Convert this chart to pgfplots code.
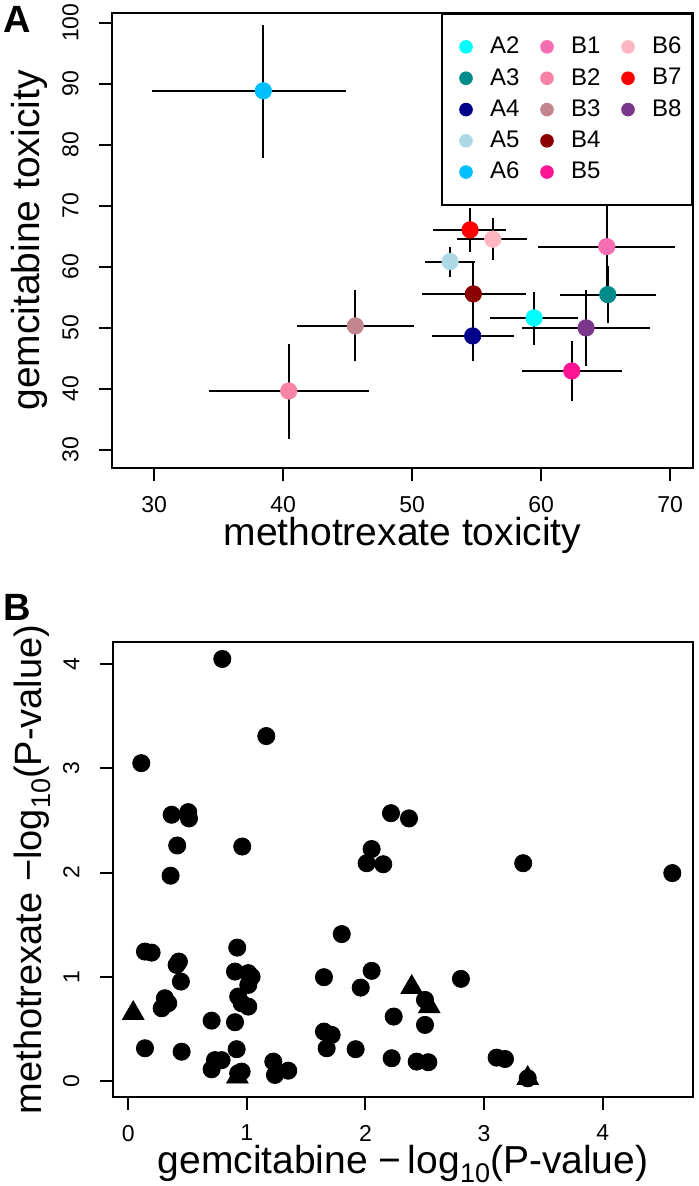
\documentclass[border=0pt]{standalone}
\usepackage{fontspec}
\setmainfont{Liberation Sans}
\usepackage{pgfplots}
\pgfplotsset{compat=1.18}
\usepackage{pgfplotstable}

\definecolor{cA2}{RGB}{0,255,255}
\definecolor{cA3}{RGB}{0,139,139}
\definecolor{cA4}{RGB}{0,0,139}
\definecolor{cA5}{RGB}{173,216,230}
\definecolor{cA6}{RGB}{0,191,255}
\definecolor{cB1}{RGB}{245,110,178}
\definecolor{cB2}{RGB}{248,131,167}
\definecolor{cB3}{RGB}{196,134,142}
\definecolor{cB4}{RGB}{139,0,0}
\definecolor{cB5}{RGB}{255,20,147}
\definecolor{cB6}{RGB}{255,182,193}
\definecolor{cB7}{RGB}{255,0,0}
\definecolor{cB8}{RGB}{122,55,139}

% toxicity means with their spread (minus / plus)
\pgfplotstableread{
x     y     xm    xp    ym     yp
59.46 51.64 3.41  3.44  4.43   4.31
65.17 55.46 3.70  3.74  4.69   4.70
54.70 48.69 3.17  3.20  4.05   4.26
52.95 60.87 1.97  1.93  2.56   2.46
38.47 88.85 8.63  6.40  10.95  10.85
65.09 63.33 5.35  5.32  7.10   6.83
40.44 39.67 6.20  6.20  7.87   7.71
45.60 50.33 4.54  4.58  5.74   5.85
54.75 55.57 4.00  4.06  5.08   5.30
62.38 42.95 3.88  3.90  4.92   4.92
56.26 64.54 2.75  2.63  3.39   3.44
54.50 66.07 2.85  2.79  3.57   3.55
63.49 50.00 4.99  4.96  6.23   6.23
}\tox

\pgfplotsset{
  rstyle/.style={
    scale only axis,
    axis line style={line width=1pt},
    tick align=outside,
    major tick length=6.5pt,
    xtick pos=left, ytick pos=left,
    every tick/.style={black, line width=1pt},
    tick label style={font=\fontsize{11.5}{11.5}\selectfont, inner sep=1pt},
    /pgf/number format/assume math mode=true,
    yticklabel style={rotate=90, anchor=south},
    xticklabel shift=6.5pt, yticklabel shift=9pt,
    label style={font=\fontsize{19.5}{19.5}\selectfont, inner sep=1pt},
  },
  pt/.style={only marks, mark=*, mark size=4.1pt, color=#1},
}

\newcommand{\sub}[1]{\raisebox{-0.22em}[\height][0pt]{\fontsize{13.5}{13.5}\selectfont #1}}

\begin{document}
\begin{tikzpicture}
\path[use as bounding box] (0,0) rectangle (349pt,-593pt);

\begin{axis}[
  rstyle,
  at={(56pt,-6.5pt)}, anchor=north west,
  width=290.5pt, height=227.5pt,
  xmin=26.74, xmax=71.78, ymin=27.05, ymax=101.6,
  xtick={30,40,...,70}, ytick={30,40,...,100},
  xlabel={methotrexate toxicity},
  ylabel={gemcitabine toxicity},
  xlabel style={at={([yshift=-39pt]rel axis cs:0.5,0)}, anchor=base},
  ylabel style={at={([xshift=-36.5pt]rel axis cs:0,0.5)}, anchor=base},
  legend columns=3,
  legend cell align=left,
  legend style={at={(rel axis cs:1,1)}, anchor=north east, draw=black,
    line width=1pt, fill=white, inner xsep=0pt, inner ysep=11.5pt,
    row sep=5.8pt, font=\fontsize{12}{12}\selectfont, nodes={inner sep=0pt}},
  legend image code/.code={\path[draw=none] (0pt,0pt) -- (24pt,0pt);
    \draw[#1] plot coordinates {(12pt,0pt)};},
  legend image post style={mark size=2.9pt},
]
\addplot[pt=cA2] coordinates {(59.46,51.64)};
\addlegendentry{\makebox[16.5pt][l]{A2}}
\addplot[pt=cB1] coordinates {(65.09,63.33)};
\addlegendentry{\makebox[16.5pt][l]{B1}}
\addplot[pt=cB6] coordinates {(56.26,64.54)};
\addlegendentry{\makebox[20pt][l]{B6}}
\addplot[pt=cA3] coordinates {(65.17,55.46)};
\addlegendentry{A3}
\addplot[pt=cB2] coordinates {(40.44,39.67)};
\addlegendentry{B2}
\addplot[pt=cB7] coordinates {(54.50,66.07)};
\addlegendentry{B7}
\addplot[pt=cA4] coordinates {(54.70,48.69)};
\addlegendentry{A4}
\addplot[pt=cB3] coordinates {(45.60,50.33)};
\addlegendentry{B3}
\addplot[pt=cB8] coordinates {(63.49,50.00)};
\addlegendentry{B8}
\addplot[pt=cA5] coordinates {(52.95,60.87)};
\addlegendentry{A5}
\addplot[pt=cB4] coordinates {(54.75,55.57)};
\addlegendentry{B4}
\addlegendimage{empty legend}
\addlegendentry{}
\addplot[pt=cA6] coordinates {(38.47,88.85)};
\addlegendentry{A6}
\addplot[pt=cB5] coordinates {(62.38,42.95)};
\addlegendentry{B5}

% crosshairs on top of the dots
\addplot[draw=none, mark=none, forget plot,
  error bars/.cd, x dir=both, x explicit, y dir=both, y explicit,
  error mark=none, error bar style={draw=black, line width=1pt}]
  table[x=x, y=y, x error plus=xp, x error minus=xm,
        y error plus=yp, y error minus=ym] {\tox};
\end{axis}

\node[anchor=base west, font=\bfseries\fontsize{19}{19}\selectfont, inner sep=0pt]
  at (1.5pt,-16.5pt) {A};

\begin{axis}[
  rstyle,
  at={(56.35pt,-321.15pt)}, anchor=north west,
  width=290.3pt, height=227.2pt,
  xmin=-0.131, xmax=4.764, ymin=-0.151, ymax=4.21,
  xtick={0,1,2,3,4}, ytick={0,1,2,3,4},
  xlabel={gemcitabine −\,log\sub{10}(P-value)},
  ylabel={methotrexate −log\sub{10}(P-value)},
  xlabel style={at={([yshift=-38.5pt]rel axis cs:0.5,0)}, anchor=base},
  ylabel style={at={([xshift=-35.5pt]rel axis cs:0,0.5)}, anchor=base,
    font=\fontsize{19}{19}\selectfont},
]
\addplot[only marks, mark=*, mark size=4.3pt, black] coordinates {
 (0.793,4.05) (1.164,3.31) (0.110,3.05) (0.366,2.555) (0.506,2.58)
 (0.512,2.52) (0.413,2.26) (0.961,2.25) (2.215,2.57) (2.367,2.52)
 (2.052,2.226) (2.010,2.09) (2.150,2.08) (3.330,2.09) (4.587,1.995)
 (1.800,1.41) (0.357,1.97) (0.141,1.242) (0.197,1.232) (0.427,1.146)
 (0.408,1.114) (0.444,0.954) (0.309,0.794) (0.337,0.746) (0.282,0.698)
 (0.141,0.314) (0.450,0.281) (0.703,0.579) (0.900,0.564) (0.919,1.28)
 (0.900,1.05) (1.012,1.035) (1.040,1.00) (1.012,0.922) (0.927,0.81)
 (0.956,0.746) (1.012,0.714) (0.914,0.305) (0.731,0.20) (0.787,0.20)
 (0.703,0.112) (0.927,0.074) (0.956,0.09) (1.223,0.186) (1.237,0.058)
 (1.349,0.099) (1.650,0.996) (1.650,0.474) (1.715,0.442) (1.673,0.314)
 (2.052,1.057) (1.960,0.896) (1.917,0.305) (2.238,0.618) (2.221,0.218)
 (2.805,0.98) (2.502,0.778) (2.502,0.538) (2.432,0.186) (2.530,0.18)
 (3.106,0.224) (3.176,0.211) (3.368,0.026)
};
\addplot[only marks, mark=triangle*, mark size=6.2pt, black] coordinates {
 (0.042,0.65) (2.390,0.90) (2.538,0.714) (3.368,0.026) (0.920,0.04)
};
\end{axis}

\node[anchor=base west, font=\bfseries\fontsize{19}{19}\selectfont, inner sep=0pt]
  at (1.5pt,-310pt) {B};
\end{tikzpicture}
\end{document}
